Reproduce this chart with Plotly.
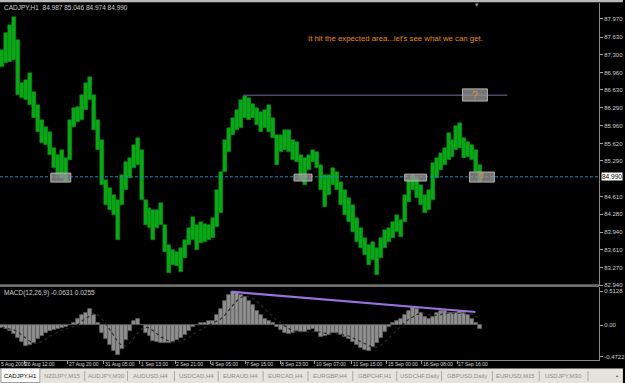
import plotly.graph_objects as go

# ---------------- data ----------------
symbol_header = "CADJPY,H1  84.987 85.046 84.974 84.990"
macd_header = "MACD(12,26,9) -0.0631 0.0255"
note_text = "It hit the expected area...let's see what we can get."
last_price = 84.990

bar_high = [
    87.39, 87.71, 87.86, 88.01, 87.57, 86.76, 86.82, 86.95, 86.59, 86.35,
    86.06, 85.93, 85.83, 85.53, 85.40, 85.50, 85.35, 86.06, 86.29, 86.31,
    86.53, 86.76, 86.88, 86.53, 86.06, 85.69, 84.93, 84.78, 84.65, 84.55,
    85.02, 85.27, 85.35, 85.59, 85.72, 85.50, 84.55, 84.40, 84.36, 84.36,
    84.49, 84.08, 83.70, 83.61, 83.57, 83.65, 83.80, 84.02, 84.23, 84.08,
    84.13, 84.10, 84.08, 84.21, 84.74, 85.08, 85.69, 85.91, 86.10, 86.25,
    86.44, 86.52, 86.48, 86.36, 86.29, 86.21, 86.25, 86.35, 86.10, 85.78,
    85.78, 85.87, 85.87, 85.69, 85.65, 85.40, 85.35, 85.40, 85.50, 85.46,
    85.21, 85.02, 85.02, 85.16, 85.08, 84.89, 84.74, 84.59, 84.46, 84.21,
    84.02, 83.83, 83.70, 83.76, 83.65, 83.83, 83.98, 84.02, 84.13, 84.27,
    84.17, 84.65, 84.93, 85.02, 84.97, 84.83, 84.65, 84.74, 85.25, 85.35,
    85.44, 85.53, 85.82, 85.69, 85.95, 86.01, 85.72, 85.65, 85.59, 85.50,
    85.21,
]
bar_low = [
    87.06, 87.14, 87.16, 87.20, 86.53, 86.48, 86.44, 86.35, 86.10, 85.84,
    85.63, 85.59, 85.40, 85.16, 85.02, 84.97, 84.89, 85.31, 85.93, 86.02,
    86.06, 86.25, 86.44, 85.87, 85.50, 84.83, 84.46, 84.36, 84.27, 83.80,
    84.46, 84.74, 84.97, 85.16, 85.21, 84.55, 84.08, 84.02, 83.80, 84.02,
    84.08, 83.57, 83.17, 83.32, 83.30, 83.19, 83.46, 83.70, 83.80, 83.61,
    83.74, 83.76, 83.80, 83.83, 84.04, 84.31, 85.08, 85.46, 85.78, 85.87,
    85.91, 86.10, 86.06, 86.10, 85.97, 85.83, 85.91, 85.83, 85.72, 85.21,
    85.46, 85.50, 85.46, 85.31, 85.27, 84.93, 84.83, 85.12, 85.27, 85.16,
    84.74, 84.42, 84.65, 84.83, 84.74, 84.46, 84.27, 84.13, 83.95, 83.76,
    83.65, 83.51, 83.32, 83.42, 83.13, 83.46, 83.65, 83.76, 83.83, 83.95,
    83.85, 84.13, 84.51, 84.74, 84.59, 84.46, 84.31, 84.36, 84.55, 84.97,
    85.12, 85.21, 85.31, 85.36, 85.50, 85.53, 85.35, 85.36, 85.31, 85.08,
    84.89,
]
macd_main = [
    -0.04, -0.06, -0.09, -0.13, -0.19, -0.25, -0.31, -0.30, -0.27, -0.21,
    -0.16, -0.12, -0.09, -0.07, -0.06, -0.04, -0.03, 0.00, 0.04, 0.10,
    0.15, 0.19, 0.24, 0.15, 0.03, -0.12, -0.21, -0.30, -0.39, -0.45,
    -0.36, -0.22, -0.09, 0.06, 0.09, 0.01, -0.12, -0.16, -0.24, -0.25,
    -0.27, -0.27, -0.27, -0.25, -0.22, -0.19, -0.15, -0.09, -0.03, 0.01,
    0.03, 0.04, 0.06, 0.07, 0.15, 0.24, 0.36, 0.45, 0.50, 0.48,
    0.45, 0.43, 0.37, 0.30, 0.22, 0.16, 0.10, 0.07, 0.03, -0.03,
    -0.07, -0.12, -0.13, -0.12, -0.09, -0.10, -0.10, -0.07, -0.06, -0.10,
    -0.18, -0.16, -0.15, -0.12, -0.12, -0.15, -0.18, -0.21, -0.25, -0.30,
    -0.34, -0.37, -0.39, -0.33, -0.27, -0.19, -0.10, -0.03, 0.04, 0.07,
    0.10, 0.16, 0.22, 0.27, 0.24, 0.18, 0.13, 0.10, 0.13, 0.18,
    0.21, 0.21, 0.19, 0.18, 0.19, 0.21, 0.18, 0.15, 0.10, 0.04,
    -0.06,
]
macd_signal = [
    -0.03, -0.04, -0.06, -0.07, -0.10, -0.15, -0.19, -0.24, -0.27, -0.27,
    -0.24, -0.21, -0.16, -0.13, -0.10, -0.07, -0.06, -0.04, -0.01, 0.01,
    0.06, 0.10, 0.15, 0.18, 0.16, 0.10, 0.03, -0.06, -0.15, -0.24,
    -0.30, -0.31, -0.27, -0.19, -0.12, -0.06, -0.03, -0.04, -0.09, -0.13,
    -0.18, -0.21, -0.24, -0.25, -0.25, -0.24, -0.21, -0.18, -0.13, -0.09,
    -0.06, -0.03, 0.00, 0.03, 0.06, 0.10, 0.16, 0.24, 0.31, 0.37,
    0.42, 0.43, 0.43, 0.40, 0.36, 0.30, 0.24, 0.18, 0.12, 0.07,
    0.03, -0.01, -0.06, -0.09, -0.10, -0.10, -0.10, -0.10, -0.09, -0.09,
    -0.10, -0.12, -0.13, -0.13, -0.13, -0.13, -0.15, -0.16, -0.19, -0.22,
    -0.25, -0.28, -0.31, -0.33, -0.33, -0.30, -0.25, -0.19, -0.13, -0.07,
    -0.01, 0.04, 0.09, 0.13, 0.16, 0.18, 0.18, 0.16, 0.15, 0.15,
    0.16, 0.18, 0.18, 0.18, 0.19, 0.19, 0.19, 0.18, 0.16, 0.13,
    0.10,
]

price_ticks = [87.97, 87.63, 87.30, 86.96, 86.63, 86.29, 85.96, 85.62,
               85.29, 84.61, 84.28, 83.94, 83.61, 83.27, 82.94]
price_tick_text = ["87.970", "87.630", "87.300", "86.960", "86.630", "86.290",
                   "85.960", "85.620", "85.290", "84.610", "84.280", "83.940",
                   "83.610", "83.270", "82.940"]
macd_ticks = [0.5128, 0.0, -0.4722]
macd_tick_text = ["0.5128", "0.00", "-0.4722"]

# the first label is visible only as "5 Aug 2009" at the left edge
time_labels = ["5 Aug 2009", "26 Aug 12:00", "27 Aug 20:00", "31 Aug 05:00",
               "1 Sep 13:00", "2 Sep 21:00", "4 Sep 05:00", "7 Sep 15:00",
               "8 Sep 23:00", "10 Sep 07:00", "11 Sep 15:00", "15 Sep 00:00",
               "16 Sep 08:00", "17 Sep 16:00"]
time_label_bar = [-0.5, 5.6, 16.5, 25.5, 34.5, 43.5, 52.25, 61.0, 69.75,
                  78.5, 87.75, 96.5, 105.25, 114.25]

tab_labels = ["CADJPY,H1", "NZDJPY,M15", "AUDJPY,M30", "AUDUSD,H4", "USDCAD,H4",
              "EURAUD,H4", "EURCAD,H4", "EURGBP,H4", "GBPCHF,H1", "USDCHF,Daily",
              "GBPUSD,Daily", "EURUSD,M15", "USDJPY,M30"]

# drawn objects: (bar_start, bar_end, price_low, price_high)
zone_boxes = [(12.25, 17.25, 84.89, 85.06), (73.25, 77.75, 84.91, 85.04),
              (101.0, 106.5, 84.91, 85.04), (117.25, 123.5, 84.89, 85.08),
              (115.5, 121.75, 86.42, 86.65)]
question_marks = [(120.25, 84.98), (118.75, 86.53)]
resistance_line = (60.5, 126.75, 86.53)
macd_trend = (57.5, 0.502, 118.75, 0.199)

# ---------------- geometry helpers (pixels -> paper) ----------------
W, H = 625, 383
ML, MR, MT, MB = 0, 24, 3, 23
PW, PH = W - ML - MR, H - MT - MB


def px(xp):
    return (xp - ML) / PW


def py(yp):
    return (H - MB - yp) / PH


idx = list(range(len(bar_high)))
FONT = "Liberation Sans, Arial, sans-serif"
xr = [-0.5, PW / 4 - 0.5]


def bar_to_paper(b):
    return (b - xr[0]) / (xr[1] - xr[0])


fig = go.Figure()
fig.add_trace(go.Bar(
    x=idx, y=[h - l for h, l in zip(bar_high, bar_low)], base=bar_low, width=1.0,
    marker=dict(color="#0aa816", line=dict(color="#0c8a1e", width=0.5)),
    xaxis="x", yaxis="y", hoverinfo="skip"))
fig.add_trace(go.Bar(
    x=idx, y=macd_main, width=1.0,
    marker=dict(color="#8e8e8e", line=dict(color="#5c5c5c", width=0.8)),
    xaxis="x2", yaxis="y2", hoverinfo="skip"))
fig.add_trace(go.Scatter(
    x=idx, y=macd_signal, mode="lines",
    line=dict(color="#2a2a2a", width=1.2, dash="dot"),
    xaxis="x2", yaxis="y2", hoverinfo="skip"))
fig.add_trace(go.Scatter(
    x=[macd_trend[0], macd_trend[2]], y=[macd_trend[1], macd_trend[3]],
    mode="lines", line=dict(color="#9a72e0", width=2.2),
    xaxis="x2", yaxis="y2", hoverinfo="skip"))

main_bottom = py(285.5)
macd_top = py(287)

shapes = []
shapes.append(dict(type="rect", xref="paper", yref="paper", x0=px(0), x1=px(W),
                   y0=py(0), y1=py(2.2), fillcolor="#b8b8b8", line=dict(width=0), layer="above"))
shapes.append(dict(type="rect", xref="paper", yref="paper", x0=0, x1=1,
                   y0=py(287), y1=py(284.3), fillcolor="#6e6e6e", line=dict(width=0)))
shapes.append(dict(type="line", xref="paper", yref="y", x0=0, x1=1,
                   y0=last_price, y1=last_price,
                   line=dict(color="#1c8cc0", width=1, dash="3px,2px")))
shapes.append(dict(type="line", xref="x", yref="y", x0=resistance_line[0], x1=resistance_line[1],
                   y0=resistance_line[2], y1=resistance_line[2],
                   line=dict(color="#4c4868", width=1.5)))
for (x0, x1, y0, y1) in zone_boxes:
    shapes.append(dict(type="rect", xref="x", yref="y", x0=x0, x1=x1, y0=y0, y1=y1,
                       fillcolor="rgba(150,150,150,0.78)", line=dict(color="#b4b4b4", width=1)))
# tabs strip
shapes.append(dict(type="rect", xref="paper", yref="paper", x0=px(0), x1=px(W),
                   y0=py(H), y1=py(368.5), fillcolor="#e6e3dc", line=dict(width=0)))
tab_edges = [0, 40, 85, 128, 175, 219, 264, 309, 354, 398, 443, 494, 541, 590]
shapes.append(dict(type="rect", xref="paper", yref="paper", x0=px(1), x1=px(40),
                   y0=py(382.5), y1=py(368.5), fillcolor="#fcfcfa",
                   line=dict(color="#a0a0a0", width=1)))
for e in tab_edges[2:]:
    shapes.append(dict(type="line", xref="paper", yref="paper", x0=px(e), x1=px(e),
                       y0=py(381), y1=py(371), line=dict(color="#a8a8a8", width=1)))

annotations = []
annotations.append(dict(text=symbol_header, xref="paper", yref="paper", x=px(2), y=py(7.5),
                        xanchor="left", yanchor="middle", showarrow=False,
                        font=dict(family=FONT, size=6.5, color="#d0d0d0")))
annotations.append(dict(text=macd_header, xref="paper", yref="paper", x=px(2), y=py(293),
                        xanchor="left", yanchor="middle", showarrow=False,
                        font=dict(family=FONT, size=6.5, color="#d0d0d0")))
annotations.append(dict(text=note_text, xref="paper", yref="paper", x=px(307), y=py(38.5),
                        xanchor="left", yanchor="middle", showarrow=False,
                        font=dict(family=FONT, size=7.8, color="#e88c1c")))
annotations.append(dict(text="%.3f" % last_price, xref="paper", yref="y", x=px(603), y=last_price,
                        xanchor="left", yanchor="middle", showarrow=False, bgcolor="#ffffff",
                        borderpad=0, font=dict(family=FONT, size=6.5, color="#000000")))
annotations.append(dict(text="▾", xref="paper", yref="paper", x=px(479), y=py(4.5),
                        xanchor="center", yanchor="middle", showarrow=False,
                        font=dict(family=FONT, size=7, color="#909090")))
for (qx, qy) in question_marks:
    annotations.append(dict(text="?", xref="x", yref="y", x=qx, y=qy,
                            xanchor="center", yanchor="middle", showarrow=False,
                            font=dict(family=FONT, size=10, color="#f08a1a")))
for lab, pos in zip(time_labels, time_label_bar):
    annotations.append(dict(text=lab, xref="paper", yref="paper", x=bar_to_paper(pos), y=py(364),
                            xanchor="left", yanchor="middle", showarrow=False, borderpad=0,
                            font=dict(family=FONT, size=5.0, color="#d8d8d8")))
for k, lab in enumerate(tab_labels):
    cx = (tab_edges[k] + tab_edges[k + 1]) / 2 + (1 if k == 0 else 0)
    annotations.append(dict(text=lab, xref="paper", yref="paper", x=px(cx), y=py(376),
                            xanchor="center", yanchor="middle", showarrow=False,
                            font=dict(family=FONT, size=6.0,
                                      color="#000000" if k == 0 else "#8a8a8a")))
annotations.append(dict(text="•", xref="paper", yref="paper", x=px(619), y=py(376),
                        xanchor="center", yanchor="middle", showarrow=False,
                        font=dict(family=FONT, size=6, color="#303030")))

axis_font = dict(family=FONT, size=6.0, color="#cfcfcf")
fig.update_layout(
    width=W, height=H, margin=dict(l=ML, r=MR, t=MT, b=MB),
    paper_bgcolor="#000000", plot_bgcolor="#000000", showlegend=False,
    bargap=0, barmode="overlay",
    xaxis=dict(domain=[0, 1], range=xr, anchor="y", showticklabels=False, ticks="",
               showgrid=False, zeroline=False, showline=False, fixedrange=True),
    xaxis2=dict(domain=[0, 1], range=xr, anchor="y2", matches="x", tickvals=time_label_bar[1:],
                ticks="outside", ticklen=3, tickcolor="#a0a0a0", showticklabels=False,
                showgrid=False, zeroline=False, showline=True, linecolor="#8a8a8a", linewidth=1),
    yaxis=dict(domain=[main_bottom, 1], range=[82.937, 88.272], side="right", anchor="x",
               tickvals=price_ticks, ticktext=price_tick_text, ticks="outside", ticklen=3,
               tickcolor="#a0a0a0", tickfont=axis_font, showgrid=False, zeroline=False,
               showline=True, linecolor="#8a8a8a", linewidth=1),
    yaxis2=dict(domain=[0, macd_top], range=[-0.5187, 0.5726], side="right", anchor="x2",
                tickvals=macd_ticks, ticktext=macd_tick_text, ticks="outside", ticklen=3,
                tickcolor="#a0a0a0", tickfont=axis_font, showgrid=False, zeroline=False,
                showline=True, linecolor="#8a8a8a", linewidth=1),
    shapes=shapes, annotations=annotations,
)
fig.write_html("out.html")
